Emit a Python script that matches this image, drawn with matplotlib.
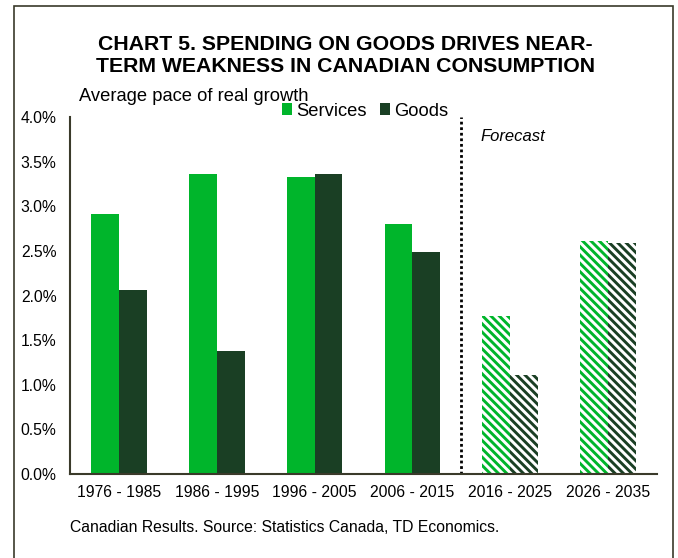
import matplotlib
matplotlib.use("Agg")
import matplotlib.pyplot as plt
from matplotlib.patches import Patch, Rectangle
import numpy as np

plt.rcParams['font.family'] = ['Liberation Sans', 'DejaVu Sans']
plt.rcParams['hatch.linewidth'] = 2.1

categories = ["1976 - 1985", "1986 - 1995", "1996 - 2005", "2006 - 2015", "2016 - 2025", "2026 - 2035"]
services = [2.91, 3.36, 3.33, 2.80, 1.77, 2.61]
goods = [2.06, 1.38, 3.36, 2.49, 1.11, 2.59]
forecast = [False, False, False, False, True, True]
yticks = [0.0, 0.5, 1.0, 1.5, 2.0, 2.5, 3.0, 3.5, 4.0]

GREEN = "#00B52B"
DARK = "#1A3F24"

W, H = 678, 558
fig = plt.figure(figsize=(W / 100, H / 100), dpi=100)
ax = fig.add_axes([70 / W, 1 - 474 / H, (657 - 70) / W, (474 - 117) / H])

x = np.arange(len(categories))
bw = 0.285
for i in range(len(categories)):
    if forecast[i]:
        ax.bar(x[i] - bw / 2, services[i], bw, facecolor="white", edgecolor=GREEN,
               hatch="\\\\\\\\", linewidth=0)
        ax.bar(x[i] + bw / 2, goods[i], bw, facecolor="white", edgecolor=DARK,
               hatch="\\\\\\\\", linewidth=0)
    else:
        ax.bar(x[i] - bw / 2, services[i], bw, color=GREEN, linewidth=0)
        ax.bar(x[i] + bw / 2, goods[i], bw, color=DARK, linewidth=0)

ax.set_xlim(-0.5, len(categories) - 0.5)
ax.set_ylim(0, 4.0)
ax.set_yticks(yticks)
ax.set_yticklabels([f"{v:.1f}%" for v in yticks])
ax.set_xticks(x)
ax.set_xticklabels(categories)
ax.tick_params(axis="both", length=0, labelsize=11.3, colors="black")
ax.tick_params(axis="y", pad=9.7)
ax.tick_params(axis="x", pad=8)
for s in ["top", "right"]:
    ax.spines[s].set_visible(False)
for s in ["left", "bottom"]:
    ax.spines[s].set_color("#3a3a2a")
    ax.spines[s].set_linewidth(1.5)

ax.axvline(3.5, color="black", linestyle=(0, (1, 1)), linewidth=2)
ax.text(3.7, 3.78, "Forecast", fontsize=12, style="italic", va="center", ha="left")

handles = [Patch(facecolor=GREEN, edgecolor="none"), Patch(facecolor=DARK, edgecolor="none")]
fig.legend(handles, ["Services", "Goods"], loc="center left",
           bbox_to_anchor=(282 / W, 1 - 111 / H), ncol=2, frameon=False,
           fontsize=13.2, handlelength=0.55, handleheight=0.55, handletextpad=0.2,
           columnspacing=0.75, borderpad=0, borderaxespad=0)

fig.text(345 / W, 1 - 45 / H, "CHART 5. SPENDING ON GOODS DRIVES NEAR-",
         fontsize=15.3, fontweight="bold", ha="center", va="center")
fig.text(345 / W, 1 - 66 / H, "TERM WEAKNESS IN CANADIAN CONSUMPTION",
         fontsize=15.3, fontweight="bold", ha="center", va="center")
fig.text(79 / W, 1 - 96 / H, "Average pace of real growth", fontsize=13.2,
         ha="left", va="center")
fig.text(70 / W, 1 - 528 / H, "Canadian Results. Source: Statistics Canada, TD Economics.",
         fontsize=11.3, ha="left", va="center")

fig.patches.append(Rectangle((14 / W, -0.1), (673 - 14) / W, 1 - 6 / H + 0.1,
                             transform=fig.transFigure, fill=False,
                             edgecolor="#3a3a2a", linewidth=1.2))

fig.savefig("out.png", dpi=100)
